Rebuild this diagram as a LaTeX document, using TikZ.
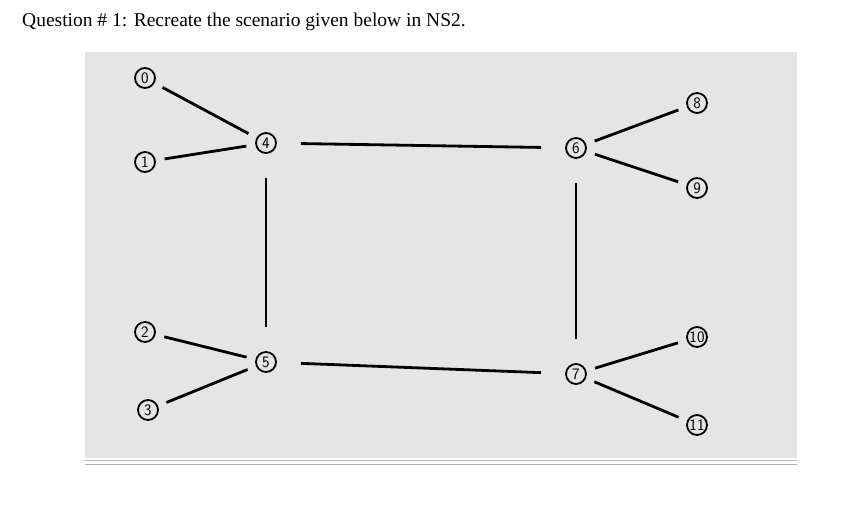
\documentclass[tikz,border=0pt]{standalone}
\usepackage{fontspec}
\setmainfont{Liberation Serif}
\usetikzlibrary{positioning}

\begin{document}
\begin{tikzpicture}[x=1pt,y=-1pt,
		every circle node/.style={draw,line width=1.8pt,minimum size=20pt,inner sep=0pt,font=\fontsize{16}{16}\selectfont\sffamily},
		link/.style={line width=2.8pt,shorten <=9pt,shorten >=9pt},
		trunk/.style={line width=2.8pt,shorten <=24pt,shorten >=24pt}]
		\useasboundingbox (0,0) rectangle (858,516);
		\node[anchor=west,inner sep=0pt,font=\fontsize{19.5}{19.5}\selectfont] (title) at (22,22) {Question \# 1: Recreate the scenario given below in NS2.};
		\fill[gray!20] (85,52) rectangle (797,458);
		\draw[gray!60,line width=1pt] (85,460) -- (797,460);
		\draw[gray!60,line width=1pt] (85,464) -- (797,464);
		
		% nodes
		\node[circle] (n0) at (145,78) {0};
		\node[circle] (n1) at (145,162) {1};
		\node[circle] (n2) at (145,332) {2};
		\node[circle] (n3) at (148,410) {3};
		\node[circle] (n4) at (266,143) {4};
		\node[circle] (n5) at (266,362) {5};
		\node[circle] (n6) at (576,148) {6};
		\node[circle] (n7) at (576,374) {7};
		\node[circle] (n8) at (697,103) {8};
		\node[circle] (n9) at (697,188) {9};
		\node[circle] (n10) at (697,337) {10};
		\node[circle] (n11) at (697,425) {11};
		
		% links
		\draw[link] (n0) -- (n4);
		\draw[link] (n1) -- (n4);
		\draw[link] (n2) -- (n5);
		\draw[link] (n3) -- (n5);
		\draw[link] (n6) -- (n8);
		\draw[link] (n6) -- (n9);
		\draw[link] (n7) -- (n10);
		\draw[link] (n7) -- (n11);
		\draw[trunk] (n4) -- (n6);
		\draw[trunk] (n5) -- (n7);
		\draw[trunk] (n4) -- (n5);
		\draw[trunk] (n6) -- (n7);
\end{tikzpicture}
\end{document}
